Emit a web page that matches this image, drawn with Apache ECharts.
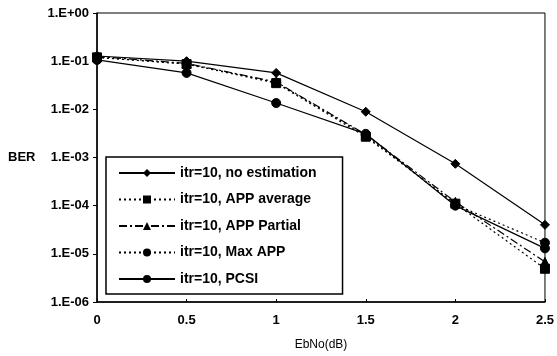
<!DOCTYPE html>
<html><head><meta charset="utf-8">
<script src="https://cdn.jsdelivr.net/npm/echarts@6/dist/echarts.min.js"></script>
<style>html,body{margin:0;padding:0;background:#fff}#c{width:557px;height:356px}</style>
</head><body><div id="c"></div>
<script>
const ebno = [0, 0.5, 1, 1.5, 2, 2.5];
const noEstimation = [0.128, 0.100, 0.057, 0.0089, 7.4e-4, 4.0e-5];
const appAverage   = [0.120, 0.087, 0.035, 0.0027, 1.1e-4, 4.9e-6];
const appPartial   = [0.125, 0.090, 0.037, 0.0030, 1.2e-4, 6.8e-6];
const maxApp       = [0.120, 0.088, 0.036, 0.0029, 1.05e-4, 1.7e-5];
const pcsi         = [0.106, 0.057, 0.0135, 0.0031, 1.0e-4, 1.3e-5];
const names = ['itr=10, no estimation','itr=10, APP average','itr=10, APP Partial','itr=10, Max APP','itr=10, PCSI'];

const font = 'Liberation Sans, Arial, sans-serif';
function mk(name, data, symbol, size, type){
  return {
    name, type:'line', data: ebno.map((x,i)=>[x,data[i]]),
    symbol, symbolSize:size, showSymbol:true,
    lineStyle:{color:'#000', width:1.2, type},
    itemStyle:{color:'#000', borderColor:'#000'},
    emphasis:{disabled:true}, animation:false
  };
}
const chart = echarts.init(document.getElementById('c'));
chart.setOption({
  backgroundColor:'#fff',
  animation:false,
  grid:{left:97, right:10, top:13, bottom:54, show:true, borderColor:'#000', borderWidth:1},
  xAxis:{type:'value', min:0, max:2.5, interval:0.5,
    name:'EbNo(dB)', nameLocation:'middle', nameGap:37,
    nameTextStyle:{color:'#000', fontFamily:font, fontSize:12},
    axisLine:{lineStyle:{color:'#000', width:1.5}},
    axisTick:{show:true, inside:true, length:3, lineStyle:{color:'#000'}},
    axisLabel:{color:'#000', fontFamily:font, fontSize:13, fontWeight:'bold', margin:12,
      formatter:v=>String(v)},
    splitLine:{show:false}},
  yAxis:{type:'log', min:1e-6, max:1, logBase:10,
    axisLine:{show:true, lineStyle:{color:'#000', width:1.5}},
    axisTick:{show:true, length:4, lineStyle:{color:'#000'}},
    minorTick:{show:false},
    axisLabel:{color:'#000', fontFamily:font, fontSize:13, fontWeight:'bold', margin:8,
      formatter:v=>{const e=Math.round(Math.log10(v)); return '1.E'+(e<0?'-':'+')+String(Math.abs(e)).padStart(2,'0');}},
    splitLine:{show:false}},
  graphic:[{type:'text', left:8, top:151, style:{text:'BER', fill:'#000', font:'bold 13px '+font}}],
  legend:{orient:'vertical', left:106, top:157, itemWidth:56, itemHeight:10, itemGap:12.5,
    padding:[9,26,8,12], backgroundColor:'#fff', borderColor:'#000', borderWidth:1.5,
    textStyle:{color:'#000', fontFamily:font, fontSize:14, fontWeight:'bold'},
    data:names, selectedMode:false},
  series:[
    mk(names[0], noEstimation, 'diamond', 9, 'solid'),
    mk(names[1], appAverage, 'rect', 9, [2,3]),
    mk(names[2], appPartial, 'triangle', 9, [8,3,2,3]),
    mk(names[3], maxApp, 'circle', 9, [2,3]),
    mk(names[4], pcsi, 'circle', 9, 'solid')
  ]
});
</script></body></html>
